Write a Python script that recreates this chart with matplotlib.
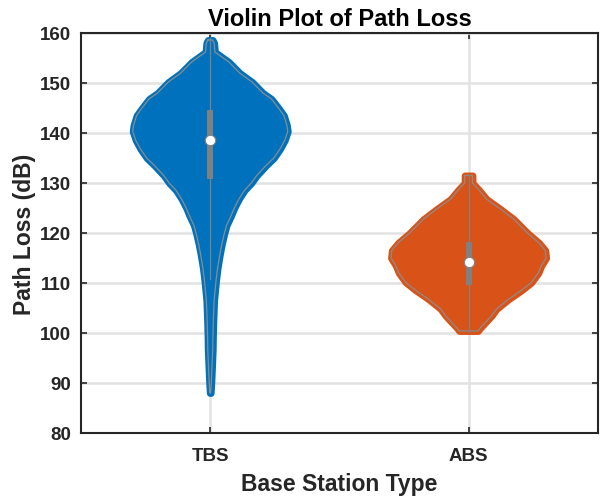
import numpy as np
import matplotlib
matplotlib.use('Agg')
import matplotlib.pyplot as plt

# violin plot of path loss per base station type

categories = ['TBS', 'ABS']
colors = ['#0072BD', '#D95319']

# violin outlines: path loss levels (dB) and relative density (max = 1)
tbs_levels = [158.6, 158.0, 156.2, 154.2, 152.0, 150.2, 148.0, 146.8, 145.0, 143.5,
              141.5, 140.3, 138.5, 136.8, 135.0, 133.5, 131.5, 130.0, 128.5, 126.8,
              125.0, 123.5, 121.5, 119.8, 117.8, 115.8, 113.0, 110.5, 106.5, 102.5,
              99.0, 96.8, 93.0, 90.2, 88.0]
tbs_density = [0.03, 0.05, 0.06, 0.24, 0.38, 0.54, 0.68, 0.79, 0.88, 0.95,
               0.99, 1.00, 0.96, 0.90, 0.82, 0.72, 0.60, 0.53, 0.44, 0.37,
               0.31, 0.27, 0.21, 0.18, 0.15, 0.125, 0.095, 0.075, 0.05, 0.04,
               0.034, 0.032, 0.022, 0.014, 0.005]

abs_levels = [131.5, 130.0, 128.5, 126.8, 124.8, 122.8, 120.0, 118.0, 116.5, 115.0,
              113.5, 112.0, 110.1, 108.5, 106.8, 104.8, 103.5, 102.5, 101.0, 100.4]
abs_density = [0.05, 0.05, 0.14, 0.23, 0.41, 0.58, 0.76, 0.91, 0.99, 1.00,
               0.94, 0.90, 0.81, 0.68, 0.52, 0.36, 0.30, 0.24, 0.15, 0.12]

# box summary: q1, median, q3, lower whisker, upper whisker
q1 = [130.8, 109.6]
medians = [138.5, 114.1]
q3 = [144.6, 118.1]
whisk_lo = [110.8, 100.2]
whisk_hi = [159.0, 131.5]

yticks = [80, 90, 100, 110, 120, 130, 140, 150, 160]

plt.rcParams['font.family'] = ['Liberation Sans', 'DejaVu Sans']
plt.rcParams['font.weight'] = 'bold'
txt = '#262626'

fig = plt.figure(figsize=(6.05, 5.02), dpi=100)
ax = fig.add_axes([0.134, 0.1355, 0.854, 0.7968])

width = 0.3
levels = [tbs_levels, abs_levels]
dens = [tbs_density, abs_density]

for i in range(2):
    pos = i + 1
    y = np.array(levels[i])
    w = np.array(dens[i]) * width
    # filled violin with a thick edge of the same colour (fuzzy scatter look)
    ax.fill_betweenx(y, pos - w, pos + w, facecolor=colors[i], edgecolor=colors[i],
                     linewidth=5, joinstyle='round', zorder=3)
    # kde outline in grey
    ax.plot(np.concatenate([pos - w, (pos + w)[::-1], [pos - w[0]]]),
            np.concatenate([y, y[::-1], [y[0]]]),
            color='#8c8c8c', lw=0.9, zorder=4)
    # whisker, box, median
    ax.plot([pos, pos], [whisk_lo[i], whisk_hi[i]], color='#808080', lw=0.9, zorder=5)
    ax.plot([pos, pos], [q1[i], q3[i]], color='#808080', lw=4.3, solid_capstyle='butt', zorder=6)
    ax.plot(pos, medians[i], 'o', markersize=7.5, markerfacecolor='white',
            markeredgecolor='#808080', markeredgewidth=0.8, zorder=7)

ax.set_xlim(0.5, 2.5)
ax.set_ylim(80, 160)
ax.set_xticks([1, 2])
ax.set_xticklabels(categories)
ax.set_yticks(yticks)

ax.grid(True, color='#e2e2e2', lw=1.8, zorder=0)
ax.set_axisbelow(True)

for s in ax.spines.values():
    s.set_color(txt)
    s.set_linewidth(1.5)
ax.tick_params(direction='in', length=4, width=1.2, color=txt, labelcolor=txt,
               labelsize=13.5, top=True, right=True)
ax.tick_params(axis='x', pad=10)
ax.tick_params(axis='y', pad=7)

ax.set_title('Violin Plot of Path Loss', fontsize=17, fontweight='bold', color='black', pad=6)
ax.set_xlabel('Base Station Type', fontsize=16.5, fontweight='bold', color=txt, labelpad=6)
ax.set_ylabel('Path Loss (dB)', fontsize=16.5, fontweight='bold', color=txt, labelpad=3)

fig.savefig('out.png', dpi=100)
